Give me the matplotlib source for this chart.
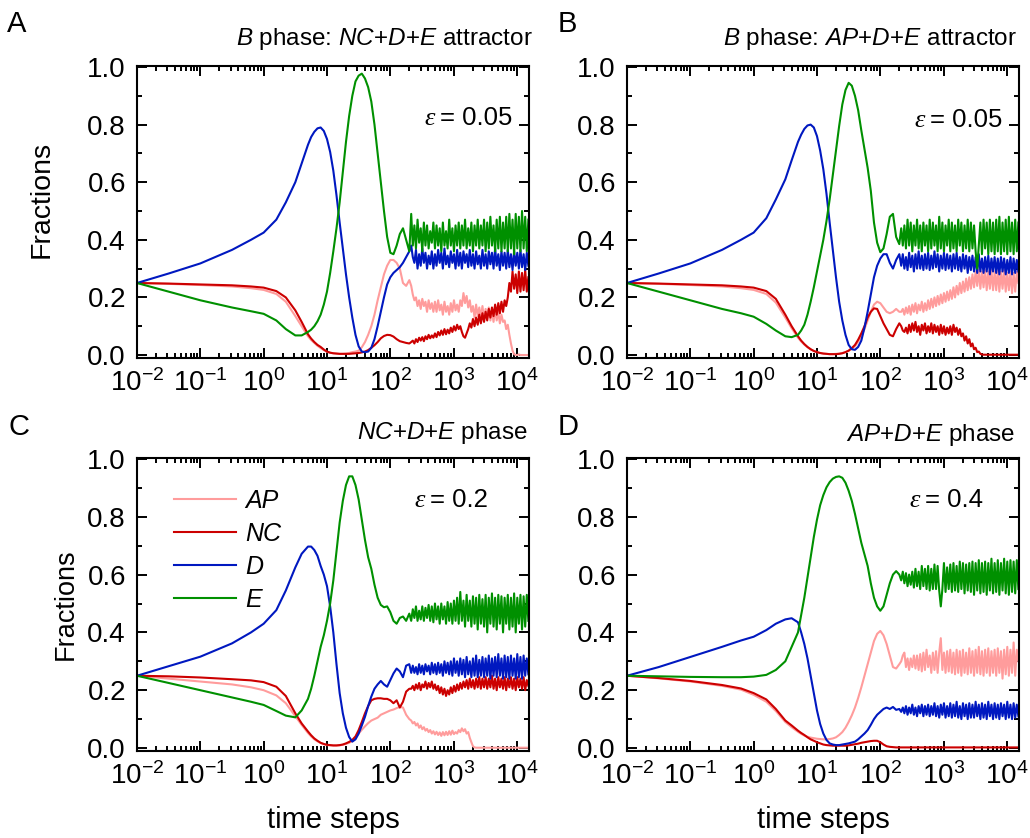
import matplotlib
matplotlib.use('Agg')
import matplotlib.pyplot as plt
from matplotlib.ticker import LogLocator, LogFormatterMathtext, MultipleLocator, FormatStrFormatter, NullFormatter
import numpy as np

plt.rcParams['font.family'] = 'Liberation Sans'
plt.rcParams['mathtext.fontset'] = 'custom'
plt.rcParams['mathtext.rm'] = 'Liberation Sans'
plt.rcParams['mathtext.it'] = 'Liberation Sans:italic'
plt.rcParams['axes.unicode_minus'] = False

# time grid (log10 of time steps): smooth part, then the noisy tail
logt_early = [-2.0, -1.5, -1.0, -0.5, -0.2, 0.0, 0.2, 0.35, 0.5, 0.6,
              0.7, 0.8, 0.9, 1.0, 1.1, 1.2, 1.3, 1.4, 1.5, 1.6,
              1.7, 1.8, 1.85, 1.9, 1.95, 2.0, 2.05, 2.1, 2.15, 2.2,
              2.25, 2.3]
logt_late = [2.33, 2.355, 2.38, 2.405, 2.43, 2.455, 2.48, 2.505, 2.53, 2.555, 2.58, 2.605, 2.63, 2.655, 2.68,
             2.705, 2.73, 2.755, 2.78, 2.805, 2.83, 2.855, 2.88, 2.905, 2.93, 2.955, 2.98, 3.005, 3.03, 3.055,
             3.08, 3.105, 3.13, 3.155, 3.18, 3.205, 3.23, 3.255, 3.28, 3.305, 3.33, 3.355, 3.38, 3.405, 3.43,
             3.455, 3.48, 3.505, 3.53, 3.555, 3.58, 3.605, 3.63, 3.655, 3.68, 3.705, 3.73, 3.755, 3.78, 3.805,
             3.83, 3.855, 3.88, 3.905, 3.93, 3.955, 3.98, 4.005, 4.03, 4.055, 4.08, 4.105, 4.13, 4.155, 4.18]
# extra samples around the big transient peaks
logt_mid = [0.75, 0.85, 0.95, 1.05, 1.15, 1.25, 1.35, 1.45, 1.55, 1.65, 1.75]

# ---- panel A ----
a_ap = [0.25, 0.247, 0.243, 0.238, 0.232, 0.226, 0.212, 0.185, 0.135, 0.10,
        0.065, 0.042, 0.024, 0.011, 0.006, 0.004, 0.005, 0.01, 0.015, 0.045,
        0.10, 0.19, 0.235, 0.28, 0.31, 0.33, 0.33, 0.32, 0.30, 0.25,
        0.24, 0.26,
        0.24, 0.21, 0.19, 0.2, 0.17, 0.19, 0.16, 0.195, 0.17, 0.185, 0.15, 0.19, 0.16, 0.18, 0.15,
        0.185, 0.15, 0.19, 0.155, 0.175, 0.14, 0.185, 0.15, 0.17, 0.14, 0.18, 0.15, 0.19, 0.155, 0.175,
        0.15, 0.19, 0.17, 0.215, 0.18, 0.205, 0.165, 0.19, 0.15, 0.17, 0.13, 0.175, 0.135, 0.165, 0.13,
        0.17, 0.125, 0.16, 0.13, 0.165, 0.12, 0.155, 0.115, 0.16, 0.12, 0.15, 0.11, 0.14, 0.115, 0.12,
        0.09, 0.105, 0.07, 0.04, 0.015, 0.003, 0.0, 0.0, 0.002, 0.0, 0.0, 0.0, 0.0, 0.0, 0.0]
a_nc = [0.25, 0.248, 0.245, 0.242, 0.238, 0.234, 0.222, 0.20, 0.155, 0.115,
        0.072, 0.045, 0.028, 0.012, 0.006, 0.004, 0.004, 0.005, 0.007, 0.012,
        0.025, 0.045, 0.058, 0.066, 0.07, 0.069, 0.064, 0.055, 0.048, 0.045,
        0.042, 0.04,
        0.045, 0.05, 0.04, 0.055, 0.045, 0.06, 0.05, 0.062, 0.048, 0.065, 0.055, 0.07, 0.058, 0.068, 0.06,
        0.075, 0.062, 0.08, 0.068, 0.085, 0.07, 0.09, 0.072, 0.088, 0.075, 0.095, 0.08, 0.1, 0.085, 0.105,
        0.09, 0.1, 0.08, 0.065, 0.06, 0.075, 0.09, 0.11, 0.095, 0.125, 0.1, 0.13, 0.105, 0.14, 0.11,
        0.145, 0.115, 0.15, 0.12, 0.16, 0.13, 0.165, 0.135, 0.175, 0.14, 0.18, 0.145, 0.185, 0.15, 0.19,
        0.17, 0.2, 0.25, 0.22, 0.29, 0.23, 0.28, 0.215, 0.29, 0.22, 0.285, 0.225, 0.295, 0.22, 0.27]
a_d = [0.25, 0.283, 0.318, 0.365, 0.40, 0.425, 0.47, 0.53, 0.60, 0.665,
       0.73, 0.775, 0.79, 0.75, 0.64, 0.46, 0.28, 0.13, 0.03, 0.01,
       0.025, 0.10, 0.15, 0.20, 0.245, 0.27, 0.285, 0.295, 0.305, 0.32,
       0.34, 0.36,
       0.38, 0.34, 0.32, 0.365, 0.30, 0.35, 0.31, 0.37, 0.32, 0.355, 0.30, 0.345, 0.315, 0.36, 0.30,
       0.35, 0.31, 0.365, 0.32, 0.355, 0.30, 0.37, 0.315, 0.345, 0.305, 0.36, 0.32, 0.35, 0.30, 0.365,
       0.31, 0.355, 0.30, 0.36, 0.32, 0.35, 0.305, 0.365, 0.31, 0.35, 0.30, 0.36, 0.315, 0.345, 0.30,
       0.365, 0.31, 0.35, 0.30, 0.36, 0.315, 0.355, 0.30, 0.37, 0.31, 0.35, 0.295, 0.36, 0.31, 0.355,
       0.30, 0.365, 0.305, 0.35, 0.295, 0.36, 0.31, 0.355, 0.30, 0.365, 0.305, 0.35, 0.295, 0.355, 0.31]
a_e = [0.25, 0.22, 0.19, 0.165, 0.152, 0.143, 0.12, 0.09, 0.068, 0.068,
       0.08, 0.10, 0.14, 0.22, 0.36, 0.53, 0.74, 0.90, 0.97, 0.96,
       0.88, 0.70, 0.60, 0.50, 0.41, 0.355, 0.35, 0.38, 0.42, 0.44,
       0.40, 0.36,
       0.49, 0.38, 0.45, 0.37, 0.47, 0.39, 0.44, 0.36, 0.46, 0.38, 0.45, 0.37, 0.43, 0.39, 0.46,
       0.37, 0.45, 0.38, 0.44, 0.36, 0.46, 0.38, 0.43, 0.37, 0.47, 0.38, 0.44, 0.36, 0.45, 0.38,
       0.46, 0.37, 0.45, 0.38, 0.47, 0.37, 0.44, 0.38, 0.46, 0.36, 0.45, 0.38, 0.47, 0.37, 0.45,
       0.38, 0.47, 0.36, 0.46, 0.37, 0.48, 0.38, 0.45, 0.36, 0.47, 0.37, 0.48, 0.36, 0.46, 0.37,
       0.48, 0.36, 0.49, 0.37, 0.47, 0.35, 0.49, 0.37, 0.48, 0.36, 0.50, 0.37, 0.48, 0.36, 0.47]
a_ap_mid = [0.052, 0.032, 0.017, 0.008, 0.005, 0.004, 0.007, 0.012, 0.027, 0.07, 0.14]
a_nc_mid = [0.057, 0.035, 0.019, 0.008, 0.005, 0.004, 0.004, 0.006, 0.009, 0.017, 0.034]
a_d_mid = [0.757, 0.787, 0.778, 0.705, 0.555, 0.37, 0.20, 0.07, 0.012, 0.012, 0.055]
a_e_mid = [0.088, 0.117, 0.175, 0.285, 0.44, 0.635, 0.83, 0.95, 0.977, 0.93, 0.80]

# ---- panel B ----
b_ap = [0.25, 0.247, 0.243, 0.238, 0.232, 0.226, 0.212, 0.182, 0.13, 0.093,
        0.06, 0.036, 0.02, 0.01, 0.005, 0.003, 0.004, 0.007, 0.015, 0.03,
        0.065, 0.12, 0.15, 0.175, 0.185, 0.18, 0.165, 0.15, 0.145, 0.15,
        0.16, 0.15,
        0.15, 0.16, 0.14, 0.165, 0.145, 0.17, 0.14, 0.175, 0.15, 0.18, 0.145, 0.175, 0.155, 0.185, 0.15,
        0.18, 0.155, 0.19, 0.16, 0.195, 0.165, 0.20, 0.17, 0.205, 0.175, 0.21, 0.18, 0.215, 0.185, 0.22,
        0.19, 0.225, 0.195, 0.235, 0.20, 0.24, 0.21, 0.25, 0.215, 0.255, 0.22, 0.265, 0.225, 0.27, 0.23,
        0.28, 0.235, 0.29, 0.24, 0.295, 0.23, 0.29, 0.235, 0.295, 0.225, 0.29, 0.23, 0.295, 0.225, 0.29,
        0.225, 0.295, 0.22, 0.29, 0.23, 0.295, 0.22, 0.285, 0.225, 0.29, 0.215, 0.285, 0.22, 0.29, 0.25]
b_nc = [0.25, 0.248, 0.245, 0.242, 0.238, 0.234, 0.222, 0.195, 0.14, 0.10,
        0.065, 0.038, 0.02, 0.01, 0.005, 0.003, 0.003, 0.006, 0.015, 0.035,
        0.075, 0.13, 0.15, 0.162, 0.16, 0.135, 0.11, 0.09, 0.07, 0.065,
        0.09, 0.11,
        0.10, 0.085, 0.08, 0.095, 0.075, 0.105, 0.08, 0.11, 0.085, 0.115, 0.08, 0.10, 0.07, 0.105, 0.085,
        0.11, 0.075, 0.10, 0.08, 0.11, 0.075, 0.105, 0.08, 0.10, 0.07, 0.105, 0.075, 0.10, 0.07, 0.095,
        0.075, 0.10, 0.07, 0.105, 0.08, 0.095, 0.07, 0.09, 0.065, 0.075, 0.05, 0.065, 0.04, 0.055, 0.03,
        0.04, 0.02, 0.025, 0.01, 0.012, 0.004, 0.002, 0.001, 0.001, 0.001, 0.001, 0.001, 0.001, 0.001, 0.001,
        0.001, 0.001, 0.001, 0.001, 0.001, 0.001, 0.001, 0.001, 0.001, 0.001, 0.001, 0.001, 0.001, 0.001, 0.001]
b_d = [0.25, 0.283, 0.318, 0.365, 0.40, 0.425, 0.475, 0.54, 0.61, 0.676,
       0.74, 0.785, 0.80, 0.76, 0.645, 0.46, 0.27, 0.12, 0.035, 0.018,
       0.05, 0.15, 0.21, 0.27, 0.31, 0.335, 0.35, 0.35, 0.32, 0.30,
       0.33, 0.35,
       0.31, 0.35, 0.30, 0.34, 0.295, 0.355, 0.305, 0.345, 0.29, 0.35, 0.30, 0.36, 0.30, 0.345, 0.295,
       0.35, 0.30, 0.355, 0.295, 0.345, 0.30, 0.36, 0.305, 0.35, 0.29, 0.345, 0.30, 0.355, 0.295, 0.35,
       0.30, 0.345, 0.29, 0.35, 0.30, 0.355, 0.295, 0.34, 0.29, 0.35, 0.30, 0.345, 0.285, 0.34, 0.295,
       0.345, 0.29, 0.34, 0.285, 0.35, 0.29, 0.335, 0.285, 0.34, 0.29, 0.345, 0.28, 0.335, 0.29, 0.34,
       0.285, 0.335, 0.28, 0.34, 0.29, 0.335, 0.28, 0.33, 0.285, 0.34, 0.28, 0.335, 0.285, 0.33, 0.29]
b_e = [0.25, 0.22, 0.19, 0.16, 0.145, 0.133, 0.108, 0.085, 0.065, 0.062,
       0.07, 0.105, 0.185, 0.29, 0.40, 0.54, 0.71, 0.87, 0.945, 0.90,
       0.78, 0.65, 0.57, 0.46, 0.39, 0.357, 0.37, 0.42, 0.48, 0.49,
       0.41, 0.385,
       0.44, 0.38, 0.45, 0.37, 0.47, 0.38, 0.46, 0.36, 0.45, 0.38, 0.47, 0.37, 0.45, 0.36, 0.46,
       0.38, 0.45, 0.36, 0.47, 0.37, 0.46, 0.38, 0.45, 0.36, 0.48, 0.37, 0.46, 0.36, 0.45, 0.38,
       0.47, 0.36, 0.46, 0.37, 0.45, 0.36, 0.47, 0.38, 0.46, 0.36, 0.45, 0.37, 0.47, 0.36, 0.46,
       0.37, 0.45, 0.36, 0.30, 0.38, 0.46, 0.35, 0.47, 0.37, 0.46, 0.35, 0.47, 0.36, 0.46, 0.35,
       0.47, 0.36, 0.48, 0.35, 0.46, 0.36, 0.47, 0.35, 0.48, 0.36, 0.46, 0.35, 0.47, 0.36, 0.46]
b_ap_mid = [0.047, 0.027, 0.014, 0.007, 0.004, 0.003, 0.005, 0.01, 0.022, 0.046, 0.09]
b_nc_mid = [0.05, 0.028, 0.014, 0.007, 0.004, 0.003, 0.004, 0.01, 0.024, 0.053, 0.10]
b_d_mid = [0.765, 0.797, 0.79, 0.71, 0.56, 0.365, 0.185, 0.07, 0.02, 0.028, 0.095]
b_e_mid = [0.085, 0.14, 0.235, 0.345, 0.465, 0.625, 0.795, 0.92, 0.935, 0.85, 0.715]

# ---- panel C ----
c_ap = [0.25, 0.24, 0.23, 0.22, 0.21, 0.20, 0.182, 0.155, 0.11, 0.08,
        0.052, 0.03, 0.017, 0.01, 0.008, 0.009, 0.014, 0.024, 0.05, 0.075,
        0.095, 0.105, 0.115, 0.12, 0.125, 0.13, 0.133, 0.138, 0.142, 0.14,
        0.115, 0.10,
        0.095, 0.085, 0.09, 0.078, 0.085, 0.07, 0.078, 0.065, 0.072, 0.06, 0.066, 0.055, 0.062, 0.05, 0.058,
        0.047, 0.056, 0.045, 0.054, 0.042, 0.055, 0.044, 0.056, 0.045, 0.058, 0.046, 0.06, 0.048, 0.055, 0.05,
        0.062, 0.055, 0.068, 0.058, 0.065, 0.05, 0.055, 0.035, 0.02, 0.006, 0.002, 0.001, 0.001, 0.001, 0.001,
        0.001, 0.001, 0.001, 0.001, 0.001, 0.001, 0.001, 0.001, 0.001, 0.001, 0.001, 0.001, 0.001, 0.001, 0.001,
        0.001, 0.001, 0.001, 0.001, 0.001, 0.001, 0.001, 0.001, 0.001, 0.001, 0.001, 0.001, 0.001, 0.001, 0.001]
c_nc = [0.25, 0.248, 0.244, 0.238, 0.234, 0.228, 0.212, 0.18, 0.12, 0.085,
        0.057, 0.033, 0.018, 0.011, 0.009, 0.01, 0.016, 0.028, 0.062, 0.12,
        0.165, 0.172, 0.172, 0.17, 0.17, 0.165, 0.155, 0.165, 0.14, 0.16,
        0.195, 0.205,
        0.205, 0.215, 0.20, 0.22, 0.205, 0.225, 0.20, 0.22, 0.21, 0.23, 0.205, 0.225, 0.21, 0.23, 0.205,
        0.22, 0.20, 0.215, 0.19, 0.21, 0.185, 0.205, 0.18, 0.20, 0.185, 0.21, 0.19, 0.215, 0.195, 0.22,
        0.20, 0.225, 0.205, 0.23, 0.21, 0.235, 0.205, 0.24, 0.21, 0.235, 0.205, 0.24, 0.21, 0.245, 0.205,
        0.24, 0.21, 0.245, 0.205, 0.24, 0.21, 0.25, 0.205, 0.24, 0.20, 0.245, 0.21, 0.24, 0.205, 0.245,
        0.20, 0.24, 0.21, 0.245, 0.205, 0.24, 0.20, 0.245, 0.21, 0.24, 0.205, 0.245, 0.20, 0.235, 0.215]
c_d = [0.25, 0.283, 0.316, 0.362, 0.40, 0.43, 0.477, 0.545, 0.625, 0.672,
       0.697, 0.685, 0.63, 0.56, 0.40, 0.19, 0.07, 0.022, 0.05, 0.108,
       0.178, 0.22, 0.232, 0.22, 0.212, 0.235, 0.258, 0.275, 0.265, 0.245,
       0.285, 0.29,
       0.26, 0.285, 0.26, 0.28, 0.255, 0.29, 0.26, 0.285, 0.255, 0.29, 0.265, 0.285, 0.255, 0.295, 0.26,
       0.29, 0.255, 0.295, 0.26, 0.29, 0.25, 0.30, 0.26, 0.295, 0.255, 0.30, 0.25, 0.31, 0.26, 0.30,
       0.25, 0.31, 0.255, 0.305, 0.245, 0.315, 0.255, 0.30, 0.245, 0.31, 0.25, 0.32, 0.245, 0.305, 0.25,
       0.315, 0.245, 0.31, 0.25, 0.32, 0.24, 0.31, 0.25, 0.315, 0.245, 0.325, 0.25, 0.31, 0.24, 0.32,
       0.245, 0.315, 0.24, 0.32, 0.25, 0.31, 0.24, 0.325, 0.245, 0.315, 0.24, 0.32, 0.25, 0.31, 0.255]
c_e = [0.25, 0.225, 0.20, 0.175, 0.16, 0.149, 0.128, 0.112, 0.106, 0.13,
       0.17, 0.25, 0.35, 0.44, 0.58, 0.78, 0.91, 0.94, 0.86, 0.72,
       0.62, 0.52, 0.495, 0.487, 0.49, 0.47, 0.44, 0.43, 0.45, 0.455,
       0.44, 0.465,
       0.44, 0.48, 0.45, 0.49, 0.44, 0.475, 0.445, 0.49, 0.44, 0.485, 0.45, 0.495, 0.44, 0.49, 0.435,
       0.50, 0.445, 0.49, 0.43, 0.50, 0.445, 0.49, 0.43, 0.505, 0.44, 0.50, 0.43, 0.51, 0.44, 0.52,
       0.43, 0.54, 0.44, 0.51, 0.42, 0.53, 0.44, 0.51, 0.42, 0.525, 0.43, 0.52, 0.41, 0.53, 0.43,
       0.515, 0.42, 0.53, 0.40, 0.52, 0.43, 0.535, 0.42, 0.52, 0.41, 0.53, 0.43, 0.525, 0.40, 0.52,
       0.43, 0.53, 0.41, 0.52, 0.42, 0.535, 0.40, 0.52, 0.43, 0.53, 0.41, 0.525, 0.42, 0.53, 0.44]
c_ap_mid = [0.04, 0.023, 0.013, 0.009, 0.008, 0.011, 0.018, 0.035, 0.063, 0.086, 0.10]
c_nc_mid = [0.044, 0.025, 0.014, 0.01, 0.009, 0.012, 0.021, 0.04, 0.09, 0.145, 0.17]
c_d_mid = [0.697, 0.665, 0.60, 0.49, 0.29, 0.12, 0.038, 0.03, 0.078, 0.145, 0.205]
c_e_mid = [0.205, 0.30, 0.39, 0.50, 0.68, 0.855, 0.94, 0.91, 0.79, 0.66, 0.565]

# ---- panel D ----
d_ap = [0.25, 0.241, 0.23, 0.215, 0.202, 0.184, 0.16, 0.128, 0.09, 0.072,
        0.056, 0.043, 0.036, 0.032, 0.03, 0.031, 0.037, 0.055, 0.09, 0.14,
        0.21, 0.29, 0.33, 0.37, 0.395, 0.405, 0.39, 0.36, 0.32, 0.28,
        0.275, 0.29,
        0.30, 0.32, 0.33, 0.28, 0.31, 0.27, 0.31, 0.28, 0.32, 0.275, 0.32, 0.27, 0.325, 0.265, 0.33,
        0.27, 0.34, 0.28, 0.32, 0.26, 0.33, 0.27, 0.335, 0.26, 0.33, 0.38, 0.27, 0.33, 0.26, 0.335,
        0.265, 0.34, 0.26, 0.33, 0.255, 0.34, 0.26, 0.335, 0.25, 0.34, 0.26, 0.33, 0.255, 0.345, 0.26,
        0.335, 0.25, 0.34, 0.26, 0.35, 0.255, 0.335, 0.25, 0.34, 0.26, 0.345, 0.25, 0.335, 0.26, 0.34,
        0.25, 0.345, 0.26, 0.335, 0.24, 0.34, 0.255, 0.35, 0.25, 0.34, 0.26, 0.365, 0.25, 0.34, 0.30]
d_nc = [0.25, 0.242, 0.232, 0.218, 0.206, 0.19, 0.168, 0.135, 0.095, 0.078,
        0.06, 0.045, 0.03, 0.02, 0.012, 0.009, 0.008, 0.008, 0.009, 0.013,
        0.018, 0.022, 0.024, 0.025, 0.025, 0.02, 0.012, 0.006, 0.004, 0.003,
        0.002, 0.002,
        0.002, 0.002, 0.002, 0.002, 0.002, 0.002, 0.002, 0.002, 0.002, 0.002, 0.002, 0.002, 0.002, 0.002, 0.002,
        0.002, 0.002, 0.002, 0.002, 0.002, 0.002, 0.002, 0.002, 0.002, 0.002, 0.002, 0.002, 0.002, 0.002, 0.002,
        0.002, 0.002, 0.002, 0.002, 0.002, 0.002, 0.002, 0.002, 0.002, 0.002, 0.002, 0.002, 0.002, 0.002, 0.002,
        0.002, 0.002, 0.002, 0.002, 0.002, 0.002, 0.002, 0.002, 0.002, 0.002, 0.002, 0.002, 0.002, 0.002, 0.002,
        0.002, 0.002, 0.002, 0.002, 0.002, 0.002, 0.002, 0.002, 0.002, 0.002, 0.002, 0.002, 0.002, 0.002, 0.002]
d_d = [0.25, 0.28, 0.315, 0.35, 0.372, 0.385, 0.408, 0.43, 0.445, 0.449,
       0.435, 0.36, 0.25, 0.13, 0.05, 0.016, 0.01, 0.012, 0.016, 0.022,
       0.04, 0.062, 0.08, 0.10, 0.115, 0.125, 0.135, 0.14, 0.135, 0.142,
       0.132, 0.135,
       0.125, 0.14, 0.12, 0.145, 0.115, 0.14, 0.12, 0.15, 0.115, 0.14, 0.11, 0.145, 0.12, 0.15, 0.11,
       0.145, 0.115, 0.15, 0.11, 0.145, 0.115, 0.155, 0.11, 0.145, 0.105, 0.15, 0.115, 0.155, 0.105, 0.145,
       0.11, 0.155, 0.105, 0.15, 0.11, 0.16, 0.105, 0.145, 0.10, 0.155, 0.11, 0.15, 0.10, 0.155, 0.105,
       0.15, 0.105, 0.16, 0.11, 0.15, 0.10, 0.155, 0.105, 0.15, 0.10, 0.16, 0.11, 0.15, 0.10, 0.155,
       0.105, 0.15, 0.10, 0.155, 0.11, 0.15, 0.10, 0.16, 0.105, 0.15, 0.10, 0.155, 0.105, 0.15, 0.11]
d_e = [0.25, 0.248, 0.246, 0.245, 0.245, 0.247, 0.253, 0.27, 0.30, 0.35,
       0.40, 0.52, 0.66, 0.79, 0.875, 0.92, 0.938, 0.935, 0.89, 0.81,
       0.71, 0.63, 0.57, 0.52, 0.49, 0.475, 0.49, 0.53, 0.57, 0.60,
       0.612, 0.60,
       0.58, 0.61, 0.57, 0.605, 0.56, 0.60, 0.565, 0.61, 0.555, 0.62, 0.56, 0.61, 0.55, 0.63, 0.56,
       0.62, 0.55, 0.63, 0.545, 0.62, 0.55, 0.635, 0.55, 0.63, 0.545, 0.49, 0.55, 0.64, 0.54, 0.625,
       0.55, 0.635, 0.54, 0.64, 0.545, 0.63, 0.54, 0.645, 0.55, 0.64, 0.535, 0.635, 0.545, 0.64, 0.54,
       0.645, 0.53, 0.64, 0.545, 0.65, 0.535, 0.64, 0.54, 0.645, 0.53, 0.64, 0.545, 0.655, 0.535, 0.64,
       0.54, 0.65, 0.53, 0.64, 0.545, 0.655, 0.535, 0.645, 0.53, 0.65, 0.54, 0.645, 0.535, 0.65, 0.55]
d_ap_mid = [0.049, 0.039, 0.034, 0.031, 0.03, 0.033, 0.045, 0.07, 0.113, 0.173, 0.25]
d_nc_mid = [0.052, 0.037, 0.025, 0.016, 0.01, 0.008, 0.008, 0.008, 0.011, 0.015, 0.02]
d_d_mid = [0.40, 0.31, 0.19, 0.083, 0.028, 0.012, 0.01, 0.014, 0.019, 0.03, 0.05]
d_e_mid = [0.46, 0.59, 0.73, 0.84, 0.902, 0.932, 0.94, 0.918, 0.855, 0.76, 0.67]

series_labels = ['AP', 'NC', 'D', 'E']
colors = ['#ff9c9c', '#cc0000', '#0018c0', '#009000']

panels = [
    ('A', r'$\mathit{B}$ phase: $\mathit{NC}$+$\mathit{D}$+$\mathit{E}$ attractor', '0.05',
     [(a_ap, a_ap_mid), (a_nc, a_nc_mid), (a_d, a_d_mid), (a_e, a_e_mid)]),
    ('B', r'$\mathit{B}$ phase: $\mathit{AP}$+$\mathit{D}$+$\mathit{E}$ attractor', '0.05',
     [(b_ap, b_ap_mid), (b_nc, b_nc_mid), (b_d, b_d_mid), (b_e, b_e_mid)]),
    ('C', r'$\mathit{NC}$+$\mathit{D}$+$\mathit{E}$ phase', '0.2',
     [(c_ap, c_ap_mid), (c_nc, c_nc_mid), (c_d, c_d_mid), (c_e, c_e_mid)]),
    ('D', r'$\mathit{AP}$+$\mathit{D}$+$\mathit{E}$ phase', '0.4',
     [(d_ap, d_ap_mid), (d_nc, d_nc_mid), (d_d, d_d_mid), (d_e, d_e_mid)]),
]

logt_all = np.array(logt_early + logt_late + logt_mid)
order = np.argsort(logt_all)
t = 10 ** logt_all[order]

W, H = 1030, 838
fig = plt.figure(figsize=(W / 100, H / 100), dpi=100)

# axes rectangles in pixels: left, top, right, bottom
rects = [(137, 66, 529, 358), (627, 66, 1019, 358),
         (137, 458, 529, 751), (627, 458, 1019, 751)]
letter_pos = [(7, 24), (558, 24), (8, 427), (558, 427)]
title_pos = [(533, 39), (1017, 39), (528, 433), (1015, 435)]
eps_pos = [(0.773, 0.822), (0.773, 0.815), (0.747, 0.857), (0.760, 0.857)]

for i, (letter, title, eps, data) in enumerate(panels):
    l, tp, r, b = rects[i]
    ax = fig.add_axes([l / W, 1 - b / H, (r - l) / W, (b - tp) / H])
    for (main, mid), c, lab in zip(data, colors, series_labels):
        y = np.array(main + mid)[order]
        ax.plot(t, y, color=c, lw=1.5, label=lab)

    ax.set_xscale('log')
    ax.set_xlim(1e-2, 10 ** 4.19)
    ax.set_ylim(-0.0104, 1.0035)
    ax.xaxis.set_major_locator(LogLocator(base=10, numticks=10))
    ax.xaxis.set_minor_locator(LogLocator(base=10, subs=np.arange(2, 10), numticks=20))
    ax.xaxis.set_major_formatter(LogFormatterMathtext())
    ax.xaxis.set_minor_formatter(NullFormatter())
    ax.yaxis.set_major_locator(MultipleLocator(0.2))
    ax.yaxis.set_minor_locator(MultipleLocator(0.1))
    ax.yaxis.set_major_formatter(FormatStrFormatter('%.1f'))
    ax.tick_params(which='both', direction='in', top=True, right=True, width=1.4)
    ax.tick_params(which='major', length=7, labelsize=20, pad=8)
    ax.tick_params(which='minor', length=3.5)
    for sp in ax.spines.values():
        sp.set_linewidth(1.5)

    ex, ey = eps_pos[i]
    ax.text(ex, ey, '= ' + eps, transform=ax.transAxes, ha='left', va='center', fontsize=18.5)
    ax.text(ex - 0.012, ey - 0.005, 'ε', transform=ax.transAxes, ha='right', va='center',
            fontsize=19, family='Liberation Serif', style='italic')

    fig.text(letter_pos[i][0] / W, 1 - letter_pos[i][1] / H, letter,
             ha='left', va='center', fontsize=21)
    fig.text(title_pos[i][0] / W, 1 - title_pos[i][1] / H, title,
             ha='right', va='center', fontsize=17.5)

    if i in (0, 2):
        fs = 20.5 if i == 0 else 19.5
        xl = 42 if i == 0 else 66
        yc = (tp + b) / 2 - (13 if i == 0 else 0)
        fig.text(xl / W, 1 - yc / H, 'Fractions', rotation=90,
                 ha='center', va='center', fontsize=fs)
    if i in (2, 3):
        fig.text(((l + r) / 2) / W, 1 - 828 / H, 'time steps',
                 ha='center', va='baseline', fontsize=21)

    if i == 2:
        ax.legend(loc='upper left', bbox_to_anchor=(0.094, 0.895), frameon=False,
                  prop={'family': 'Liberation Sans', 'style': 'italic', 'size': 18},
                  handlelength=2.5, handletextpad=0.35, labelspacing=0.36,
                  borderpad=0, borderaxespad=0)

fig.savefig('out.png', dpi=100)
